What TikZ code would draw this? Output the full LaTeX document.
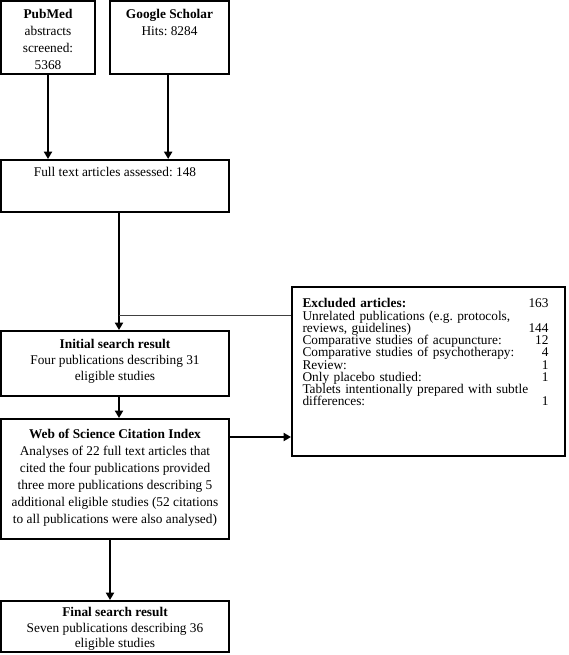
\documentclass[tikz,border=0pt]{standalone}
\usepackage{fontspec}
\setmainfont{Liberation Serif}
\frenchspacing
\usetikzlibrary{arrows.meta}
\tikzset{every picture/.style={line width=0.75pt}}
\tikzset{
  flowbox/.style={draw, line width=1.5pt, inner sep=0pt},
  boxtext/.style={anchor=north, inner sep=0pt, align=center},
  flowarrow/.style={line width=1.5pt, -{Triangle[length=5.5pt,width=6pt]}},
}

\begin{document}
\begin{tikzpicture}[x=0.75pt,y=0.75pt,yscale=-1,xscale=1]
\useasboundingbox (0,0) rectangle (568,655);

%Shape: Rectangle
\node (pubmed) [flowbox, minimum width=70.5pt, minimum height=54.75pt] at (48,37.5) {};
%Shape: Rectangle
\node (google) [flowbox, minimum width=89.25pt, minimum height=54.75pt] at (169.5,37.5) {};
%Shape: Rectangle
\node (full) [flowbox, minimum width=171pt, minimum height=39pt] at (115,186) {};
%Shape: Rectangle
\node (initial) [flowbox, minimum width=171pt, minimum height=48.75pt] at (115,363.5) {};
%Shape: Rectangle
\node (wos) [flowbox, minimum width=171pt, minimum height=90pt] at (115,479) {};
%Shape: Rectangle
\node (final) [flowbox, minimum width=171pt, minimum height=38.25pt] at (115,626.5) {};
%Shape: Rectangle
\node (excl) [flowbox, minimum width=204.75pt, minimum height=126.75pt] at (428.5,371.5) {};

%Straight Lines
\draw [flowarrow] (pubmed.south) -- (pubmed.south |- full.north);
%Straight Lines
\draw [flowarrow] ([xshift=-1pt]google.south) -- ([xshift=-1pt]google.south |- full.north);
%Straight Lines
\draw [flowarrow] ([xshift=3pt]full.south) -- ([xshift=3pt]initial.north);
%Straight Lines
\coordinate (branch) at (119,315);
\draw [color=black!75] (branch) -- (branch -| excl.west);
%Straight Lines
\draw [flowarrow] ([xshift=3pt]initial.south) -- ([xshift=3pt]wos.north);
%Straight Lines
\draw [flowarrow] ([yshift=-31.5pt]wos.east) -- ([yshift=-31.5pt]wos.east -| excl.west);
%Straight Lines
\draw [flowarrow] ([xshift=-3.75pt]wos.south) -- ([xshift=-3.75pt]final.north);

% Text Node
\node (pubmedtxt) [boxtext, font=\fontsize{10pt}{12.75pt}\selectfont] at (48,9) {\textbf{PubMed}\\abstracts\\screened:\\5368};
% Text Node
\node (googletxt) [boxtext, font=\fontsize{10pt}{12.75pt}\selectfont] at (169.5,9) {\textbf{Google Scholar}\\Hits: 8284};
% Text Node
\node (fulltxt) [boxtext, font=\fontsize{10pt}{12pt}\selectfont] at (115,167) {Full text articles assessed: 148};
% Text Node
\node (initialtxt) [boxtext, font=\fontsize{10pt}{12pt}\selectfont] at (115,339) {\textbf{Initial search result}\\Four publications describing 31\\eligible studies};
% Text Node
\node (wostxt) [boxtext, font=\fontsize{10pt}{12.75pt}\selectfont] at (115,429) {\textbf{Web of Science Citation Index}\\Analyses of 22 full text articles that\\cited the four publications provided\\three more publications describing 5\\additional eligible studies (52 citations\\to all publications were also analysed)};
% Text Node
\node (finaltxt) [boxtext, font=\fontsize{10pt}{11.6pt}\selectfont] at (115,607) {\textbf{Final search result}\\Seven publications describing 36\\eligible studies};
% Text Node
\node (excltxt) [anchor=north west, inner sep=0pt, text width=184.5pt, align=left, font=\fontsize{10pt}{9.2pt}\selectfont] at (302,298) {%
\lineskiplimit=-10pt
\textbf{Excluded articles:}\hfill 163\\
Unrelated publications (e.g. protocols,\\
reviews, guidelines)\hfill 144\\
Comparative studies of acupuncture:\hfill 12\\
Comparative studies of psychotherapy:\hfill 4\\
Review:\hfill 1\\
Only placebo studied:\hfill 1\\
Tablets intentionally prepared with subtle\\
differences:\hfill 1};

\end{tikzpicture}
\end{document}
